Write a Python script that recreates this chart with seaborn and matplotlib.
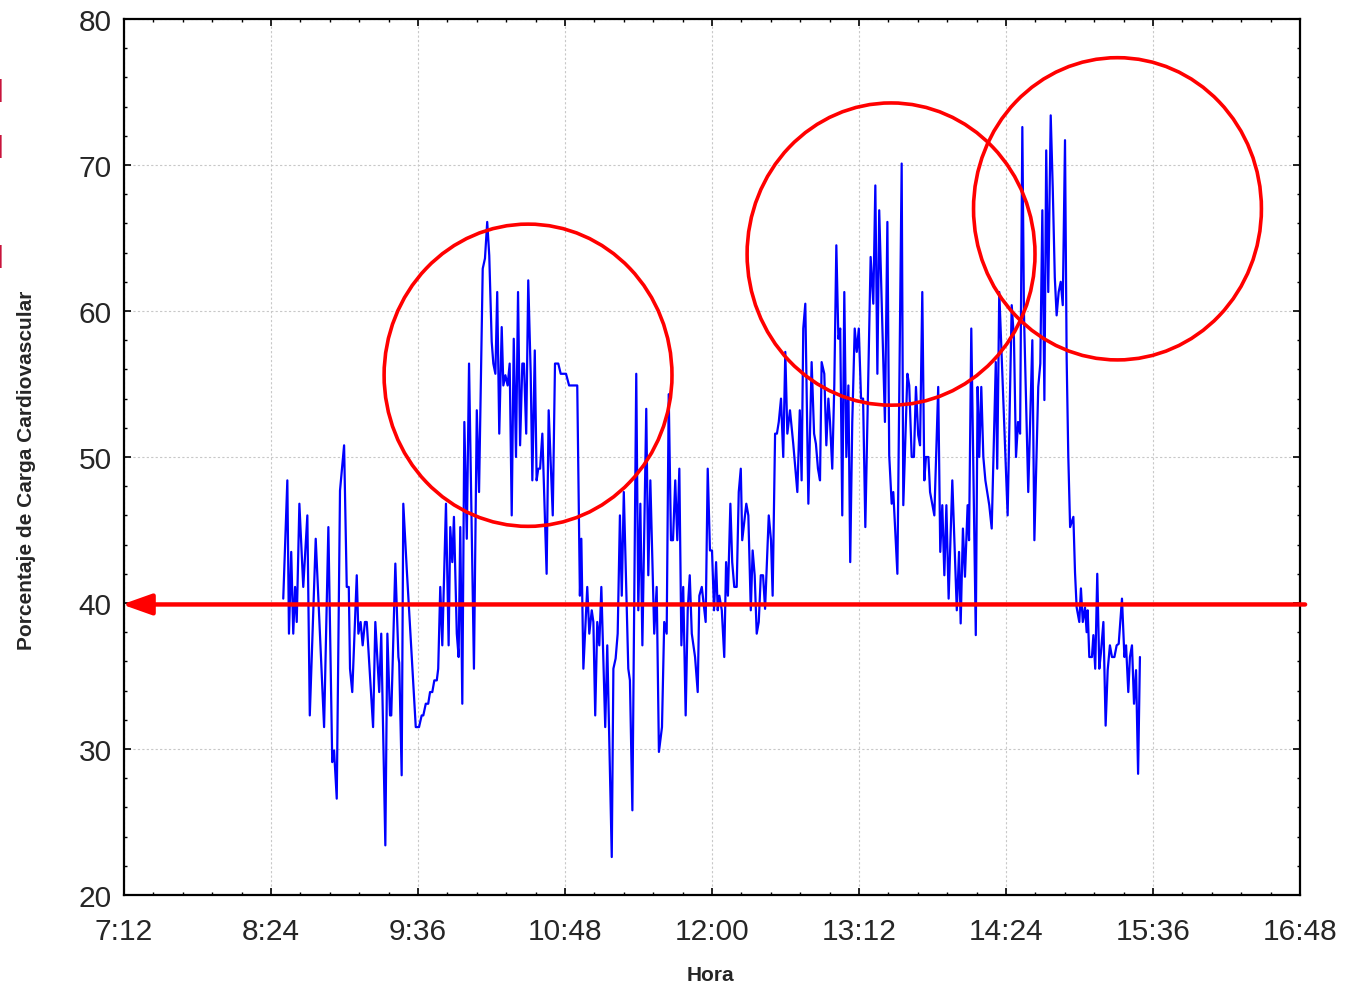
import numpy as np
import pandas as pd
import matplotlib
matplotlib.use("Agg")
import matplotlib.pyplot as plt
from matplotlib.patches import Ellipse
from matplotlib.ticker import MultipleLocator
import seaborn as sns

# time in minutes since midnight
minutes = [
    510.0, 512.0, 512.8, 513.9, 514.9, 515.8, 516.6, 517.9, 519.8, 521.8,
    523.0, 525.9, 530.0, 532.1, 534.0, 534.9, 536.2, 537.8, 539.8, 541.1,
    542.1, 542.7, 543.8, 546.0, 546.8, 547.9, 548.9, 550.0, 550.9, 554.0,
    555.1, 557.0, 558.0, 560.0, 561.0, 562.3, 562.9, 564.9, 566.4, 566.8,
    568.0, 568.8, 570.5, 574.9, 576.5, 577.8, 578.6, 579.8, 581.0, 581.9,
    583.0, 584.0, 585.2, 585.9, 586.9, 587.9, 589.7, 591.0, 591.8, 592.8,
    593.6, 595.0, 595.9, 596.7, 597.7, 598.7, 599.9, 601.0, 603.4, 604.8,
    605.9, 607.7, 608.8, 609.9, 610.9, 612.1, 612.9, 613.9, 614.8, 615.8,
    617.0, 617.8, 618.8, 619.9, 620.9, 621.9, 622.9, 624.0, 625.0, 626.0,
    627.1, 627.9, 629.0, 630.0, 631.2, 632.0, 633.2, 634.1, 634.9, 635.8,
    636.9, 637.7, 639.0, 640.0, 642.0, 643.1, 644.7, 645.9, 648.5, 650.0,
    654.0, 655.3, 656.0, 657.0, 658.9, 659.9, 661.1, 661.9, 662.8, 663.8,
    664.8, 665.8, 667.7, 668.7, 670.9, 671.7, 672.8, 673.8, 674.9, 675.8,
    676.8, 679.0, 679.8, 681.0, 682.9, 683.9, 684.9, 685.9, 687.8, 688.8,
    689.8, 691.7, 692.9, 694.0, 695.5, 696.6, 697.8, 698.8, 699.9, 700.9,
    702.0, 703.0, 704.0, 705.0, 705.9, 707.1, 708.1, 709.1, 710.1, 711.7,
    713.0, 713.8, 715.0, 716.9, 717.9, 719.0, 720.0, 721.0, 722.0, 722.8,
    723.6, 724.8, 726.0, 726.9, 727.8, 729.0, 729.9, 730.9, 732.1, 733.1,
    734.1, 734.8, 736.8, 737.8, 739.0, 739.9, 740.9, 741.9, 742.9, 743.9,
    745.0, 746.0, 747.8, 748.9, 749.7, 750.9, 751.8, 752.7, 753.8, 754.9,
    755.9, 756.9, 758.2, 759.8, 761.8, 763.0, 763.9, 764.7, 765.7, 767.2,
    768.8, 770.0, 770.9, 771.9, 772.9, 773.7, 775.0, 776.0, 777.0, 777.8,
    778.9, 779.9, 780.9, 781.9, 782.8, 783.8, 784.8, 785.8, 786.8, 787.7,
    788.7, 789.9, 790.9, 791.9, 793.0, 794.0, 795.1, 796.1, 797.7, 799.0,
    800.0, 801.0, 801.9, 804.7, 805.9, 806.8, 808.0, 808.8, 810.8, 812.9,
    813.7, 815.7, 816.6, 817.8, 818.9, 819.9, 821.0, 821.9, 823.0, 824.0,
    824.8, 826.0, 826.8, 828.9, 830.8, 831.8, 832.8, 833.8, 834.8, 835.9,
    837.7, 839.9, 841.0, 841.8, 842.9, 843.9, 845.2, 845.9, 847.0, 849.2,
    850.1, 850.9, 851.9, 852.9, 853.9, 854.8, 855.8, 857.0, 859.0, 859.7,
    860.7, 862.7, 863.7, 864.8, 866.8, 867.9, 868.9, 869.9, 870.9, 872.0,
    872.8, 874.9, 876.9, 877.9, 879.8, 880.8, 881.8, 882.8, 883.7, 884.7,
    885.9, 886.9, 887.9, 888.8, 889.8, 890.8, 891.8, 892.9, 893.7, 894.5,
    895.4, 897.0, 897.8, 898.6, 899.9, 900.7, 901.6, 902.7, 903.5, 904.0,
    904.8, 906.1, 906.8, 907.7, 908.7, 909.7, 910.5, 911.7, 912.8, 913.8,
    914.9, 915.9, 917.1, 918.2, 919.2, 920.8, 922.0, 922.8, 923.9, 924.7,
    925.7, 926.7, 927.7, 928.7, 929.6,
]

carga = [
    40.3, 48.4, 37.9, 43.5, 37.9, 41.1, 38.7, 46.8, 41.1, 46.0,
    32.3, 44.4, 31.5, 45.2, 29.1, 29.9, 26.6, 47.7, 50.8, 41.1,
    41.1, 35.5, 33.9, 41.9, 37.9, 38.7, 37.1, 38.7, 38.7, 31.5,
    38.7, 33.9, 37.9, 23.4, 37.9, 32.3, 32.3, 42.7, 36.3, 35.9,
    28.2, 46.8, 42.3, 31.5, 31.5, 32.3, 32.3, 33.1, 33.1, 33.9,
    33.9, 34.7, 34.7, 35.5, 41.1, 37.1, 46.8, 37.1, 45.2, 42.8,
    45.9, 37.9, 36.3, 45.2, 33.1, 52.4, 44.4, 56.4, 35.5, 53.2,
    47.6, 62.9, 63.6, 66.1, 63.8, 57.9, 56.4, 55.7, 61.3, 51.6,
    58.9, 54.9, 55.6, 54.9, 56.4, 46.0, 58.1, 50.0, 61.3, 50.8,
    56.4, 56.4, 51.6, 62.1, 55.7, 48.4, 57.3, 48.4, 49.2, 49.2,
    51.6, 48.0, 42.0, 53.2, 46.0, 56.4, 56.4, 55.7, 55.7, 54.9,
    54.9, 40.5, 44.4, 35.5, 41.1, 37.9, 39.5, 38.7, 32.3, 38.7,
    37.1, 41.1, 31.5, 37.1, 22.6, 35.5, 36.2, 37.9, 46.0, 40.5,
    47.6, 35.5, 34.7, 25.8, 55.7, 39.5, 46.8, 37.1, 53.3, 41.9,
    48.4, 37.9, 41.1, 29.8, 31.5, 38.7, 37.9, 54.3, 44.3, 44.3,
    48.4, 44.3, 49.2, 37.1, 41.1, 32.3, 39.5, 41.9, 37.9, 36.3,
    33.9, 40.5, 41.1, 38.7, 49.2, 43.6, 43.6, 39.5, 42.8, 39.5,
    40.5, 39.5, 36.3, 42.8, 40.5, 46.8, 42.8, 41.1, 41.1, 47.6,
    49.2, 44.3, 46.8, 46.0, 39.5, 43.6, 41.9, 37.9, 38.7, 41.9,
    41.9, 39.6, 46.0, 44.3, 40.5, 51.6, 51.6, 52.4, 54.0, 50.0,
    57.2, 51.6, 53.2, 50.9, 47.6, 53.2, 48.4, 58.8, 60.5, 46.8,
    56.5, 51.6, 50.9, 49.2, 48.4, 56.5, 55.7, 50.8, 54.0, 52.4,
    49.2, 54.9, 64.5, 58.1, 58.8, 46.0, 61.3, 50.0, 54.9, 42.8,
    52.4, 58.8, 57.2, 58.8, 54.0, 54.0, 45.2, 52.4, 63.7, 60.5,
    68.6, 55.7, 66.9, 52.4, 66.1, 50.1, 46.8, 47.6, 42.0, 70.1,
    46.7, 55.7, 54.9, 50.0, 50.0, 54.8, 51.5, 50.8, 61.3, 48.4,
    50.0, 50.0, 47.6, 46.0, 54.8, 43.5, 46.7, 41.9, 46.7, 40.3,
    48.4, 39.5, 43.5, 38.6, 45.1, 41.8, 46.7, 44.3, 58.8, 37.8,
    54.8, 50.0, 54.8, 50.0, 48.4, 47.6, 46.7, 45.1, 56.5, 49.2,
    61.3, 53.9, 50.0, 46.0, 60.4, 58.1, 50.0, 52.4, 51.6, 72.6,
    59.8, 47.6, 58.0, 44.3, 54.8, 56.4, 66.9, 53.9, 71.0, 61.3,
    73.4, 68.4, 62.3, 59.7, 61.3, 62.0, 60.4, 71.7, 56.8, 50.1,
    45.2, 45.9, 42.1, 39.7, 38.7, 41.0, 38.7, 39.7, 38.0, 39.5,
    36.3, 36.3, 37.8, 35.5, 42.0, 35.5, 36.6, 38.7, 31.6, 35.4,
    37.1, 36.3, 36.3, 37.1, 37.2, 40.3, 36.3, 37.1, 33.9, 36.3,
    37.1, 33.1, 35.4, 28.3, 36.3,
]

x_ticks = [432, 504, 576, 648, 720, 792, 864, 936, 1008]
x_tick_labels = ["7:12", "8:24", "9:36", "10:48", "12:00", "13:12", "14:24", "15:36", "16:48"]
y_ticks = [20, 30, 40, 50, 60, 70, 80]
x_label = "Hora"
y_label = "Porcentaje de Carga Cardiovascular"
umbral = 39.9
# highlighted zones: (center minutes, center value)
zonas = [(629.9, 55.6), (807.7, 63.9), (918.6, 67.0)]

df = pd.DataFrame({"t": minutes, "v": carga})

sns.set_theme(style="white")
plt.rcParams["font.family"] = ["Liberation Sans", "DejaVu Sans"]

fig = plt.figure(figsize=(13.57, 9.87), dpi=100)
ax = fig.add_axes([124 / 1357, 1 - 896 / 987, 1176 / 1357, 876 / 987])

sns.lineplot(data=df, x="t", y="v", ax=ax, color="#0000ff", linewidth=1.6,
             sort=False, estimator=None)

ax.set_xlim(432, 1008)
ax.set_ylim(20, 80)
ax.set_xticks(x_ticks)
ax.set_xticklabels(x_tick_labels)
ax.set_yticks(y_ticks)
ax.xaxis.set_minor_locator(MultipleLocator(14.4))
ax.yaxis.set_minor_locator(MultipleLocator(2))

ax.grid(True, which="major", color="#c8c8c8", linestyle=(0, (2, 2)), linewidth=0.8)
ax.tick_params(which="major", direction="in", length=5, width=1.2, color="black",
               top=True, right=True, bottom=True, left=True, labelsize=21.5)
ax.tick_params(axis="x", which="major", pad=16)
ax.tick_params(axis="y", which="major", pad=9)
ax.tick_params(which="minor", direction="in", length=2.5, width=1.0, color="black",
               top=True, right=True, bottom=True, left=True)
for s in ax.spines.values():
    s.set_visible(True)
    s.set_color("black")
    s.set_linewidth(1.6)

ax.set_xlabel("")
ax.set_ylabel("")
fig.text(710 / 1357, 1 - 976 / 987, x_label, fontsize=15, fontweight="bold",
         ha="center", va="center")
fig.text(27 / 1357, 1 - 470 / 987, y_label, fontsize=15, fontweight="bold",
         ha="center", va="center", rotation=90)

# red circles
for cx, cy in zonas:
    e = Ellipse((cx, cy), width=141, height=20.7, fill=False, edgecolor="#ff0000",
                linewidth=2.6, zorder=5, clip_on=False)
    ax.add_patch(e)

# red threshold arrow
ax.annotate("", xy=(431.0, umbral), xytext=(1010.5, umbral),
            arrowprops=dict(arrowstyle="-|>,head_length=0.9,head_width=0.32",
                            color="#ff0000", lw=3.2, mutation_scale=20,
                            shrinkA=0, shrinkB=0),
            annotation_clip=False, zorder=6)

# cut-off red text fragments on the left margin
for yy in [0.905, 0.848, 0.737]:
    fig.text(0.003, yy, "l", color="#c8143c", fontsize=22, ha="right", va="center")

fig.savefig("out.png", dpi=100)
